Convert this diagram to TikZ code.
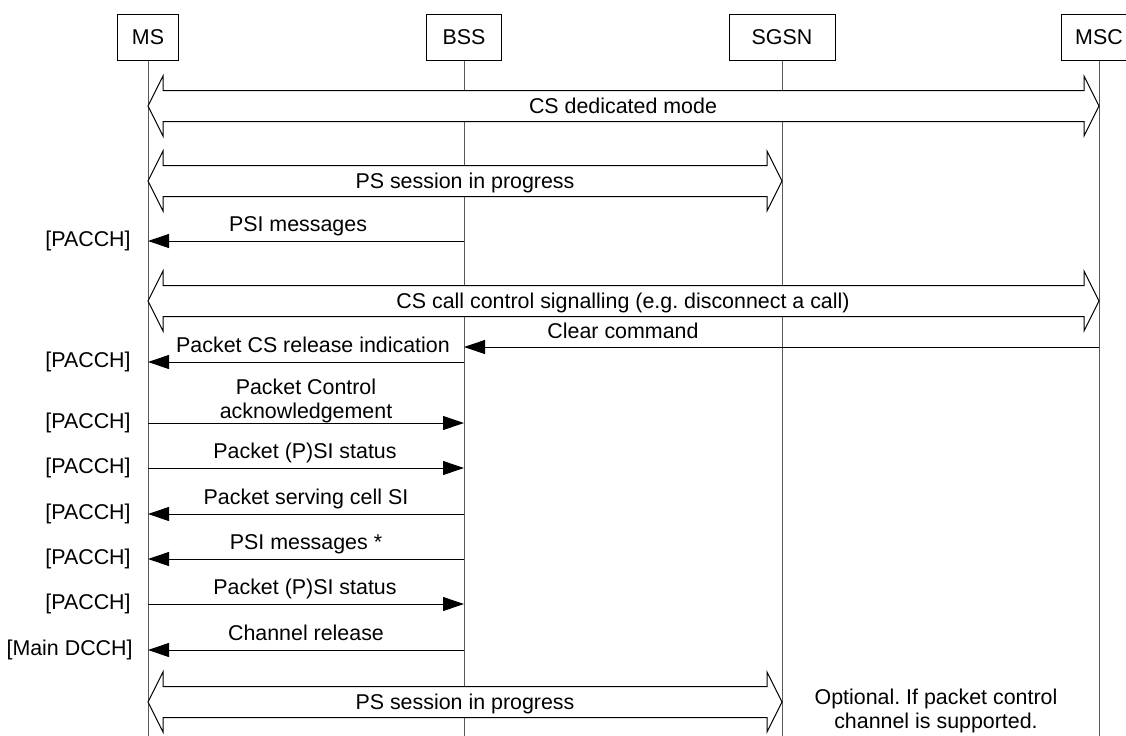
\documentclass[tikz,border=0pt]{standalone}
\usepackage{fontspec}
\setmainfont{Liberation Sans}
\usetikzlibrary{arrows.meta,calc}
\frenchspacing

% hollow two-headed arrow between two lifelines at row #3
\newcommand{\hollowarrow}[3]{%
  \draw[big] let \p1=(#1 |- 0,#3), \p2=(#2 |- 0,#3) in
    (\p1) -- (\x1+7.5pt,\y1+15pt) -- (\x1+7.5pt,\y1+7.75pt) -- (\x2-7.5pt,\y1+7.75pt)
    -- (\x2-7.5pt,\y1+15pt) -- (\p2) -- (\x2-7.5pt,\y1-15pt) -- (\x2-7.5pt,\y1-7.75pt)
    -- (\x1+7.5pt,\y1-7.75pt) -- (\x1+7.5pt,\y1-15pt) -- cycle;}

\begin{document}
\begin{tikzpicture}[x=0.5pt,y=-0.5pt,
every node/.style={font=\fontsize{10.7pt}{12pt}\selectfont},
entity/.style={draw,rectangle,minimum height=23pt,inner sep=0pt,line width=0.5pt},
life/.style={draw=black!65,line width=0.5pt},
msg/.style={draw,line width=0.5pt,-{Triangle[length=10.5pt,width=7pt]}},
big/.style={draw,fill=white,line width=0.5pt,line join=miter},
msgtxt/.style={anchor=base,inner sep=0pt},
chan/.style={anchor=east,inner sep=0pt}]
\useasboundingbox (0,0) rectangle (1126,735);

\node (ms) [entity,minimum width=30.5pt] at (148,37) {MS};
\node (bss) [entity,minimum width=37.5pt] at (464,37) {BSS};
\node (sgsn) [entity,minimum width=53pt] at (782,37) {SGSN};
\node (msc) [entity,minimum width=37.5pt] at (1099,37) {MSC};

\coordinate (msend) at (ms |- 0,740);
\coordinate (bssend) at (bss |- 0,740);
\coordinate (sgsnend) at (sgsn |- 0,740);
\coordinate (mscend) at (msc |- 0,740);
\draw[life] (ms) -- (msend);
\draw[life] (bss) -- (bssend);
\draw[life] (sgsn) -- (sgsnend);
\draw[life] (msc) -- (mscend);

% CS dedicated mode
\hollowarrow{ms}{msc}{106}
\node (dedic) [msgtxt] at (623,113.5) {CS dedicated mode};

% PS session
\hollowarrow{ms}{sgsn}{181}
\node (pssess) [msgtxt] at (465,188.5) {PS session in progress};

\draw[msg] (bss |- 0,241) -- (ms |- 0,241);
\node (psi) [msgtxt] at (298,231.5) {PSI messages};
\node (chpsi) [chan] at (131,241) {[PACCH]};

% call control
\hollowarrow{ms}{msc}{301}
\node (cscc) [msgtxt] at (623,308.5) {CS call control signalling (e.g. disconnect a call)};

\draw[msg] (msc |- 0,347) -- (bss |- 0,347);
\node (clear) [msgtxt] at (623,338) {Clear command};

\draw[msg] (bss |- 0,362) -- (ms |- 0,362);
\node (csrel) [msgtxt] at (313,352.5) {Packet CS release indication};
\node (chcsrel) [chan] at (131,362) {[PACCH]};

\draw[msg] (ms |- 0,423) -- (bss |- 0,423);
\node (pca) [anchor=south,inner sep=0pt,align=center] at (306,423) {Packet Control\\acknowledgement};
\node (chpca) [chan] at (131,423) {[PACCH]};

\draw[msg] (ms |- 0,468) -- (bss |- 0,468);
\node (sistat) [msgtxt] at (305,458.5) {Packet (P)SI status};
\node (chsistat) [chan] at (131,468) {[PACCH]};

\draw[msg] (bss |- 0,514) -- (ms |- 0,514);
\node (scsi) [msgtxt] at (306,504.5) {Packet serving cell SI};
\node (chscsi) [chan] at (131,514) {[PACCH]};

\draw[msg] (bss |- 0,559) -- (ms |- 0,559);
\node (psistar) [msgtxt] at (306,549.5) {PSI messages *};
\node (chpsistar) [chan] at (131,559) {[PACCH]};

\draw[msg] (ms |- 0,604) -- (bss |- 0,604);
\node (sistatb) [msgtxt] at (305,594.5) {Packet (P)SI status};
\node (chsistatb) [chan] at (131,604) {[PACCH]};

\draw[msg] (bss |- 0,650) -- (ms |- 0,650);
\node (chrel) [msgtxt] at (306,640.5) {Channel release};
\node (chchrel) [chan] at (133,650) {[Main DCCH]};

% PS session again
\hollowarrow{ms}{sgsn}{702}
\node (pssessb) [msgtxt] at (465,709.5) {PS session in progress};

\node (note) [anchor=south,inner sep=0pt,align=center] at (936,733) {Optional. If packet control\\channel is supported.};
\end{tikzpicture}
\end{document}
